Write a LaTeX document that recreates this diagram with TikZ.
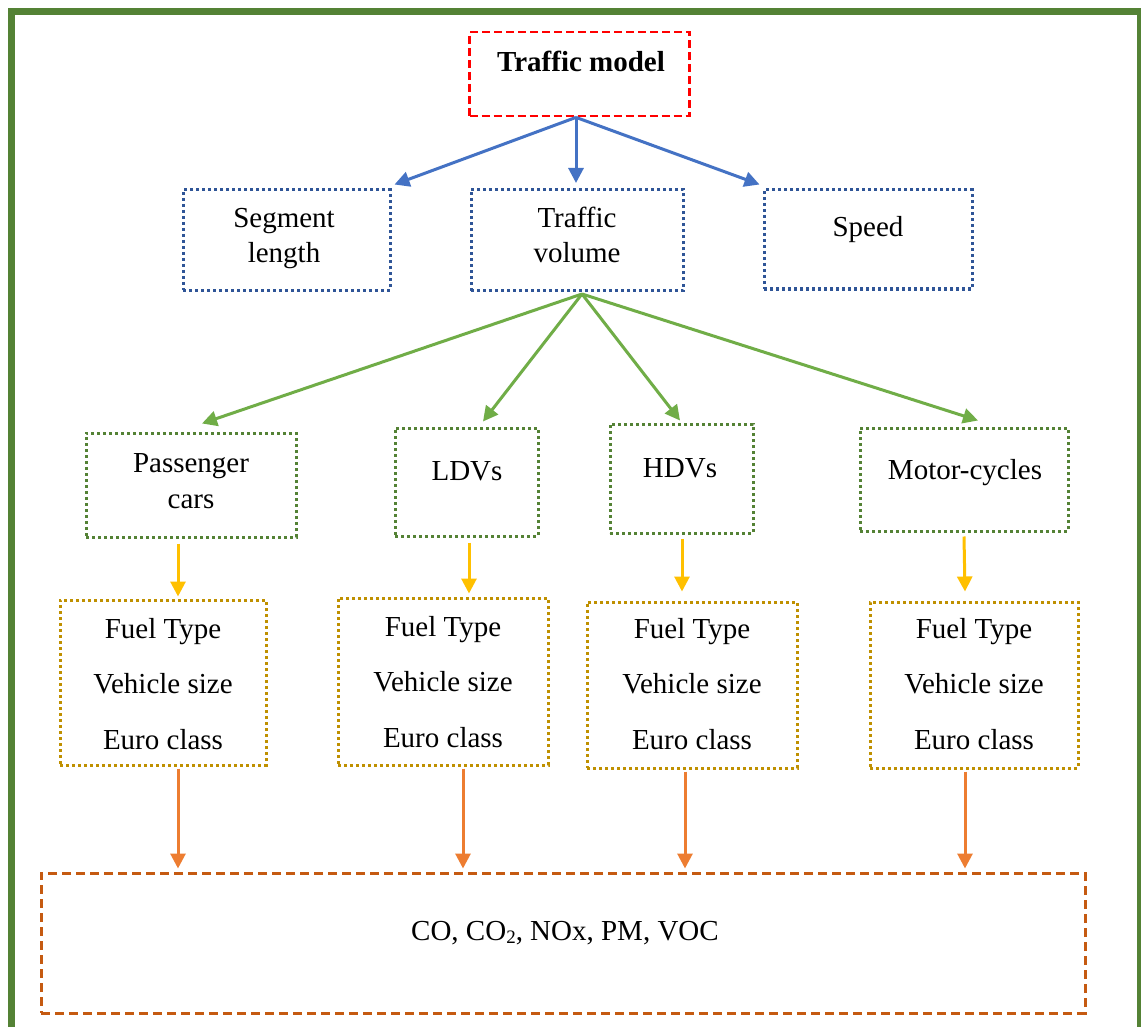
\documentclass[tikz,border=0pt]{standalone}
\usepackage{fontspec}
\setmainfont{Liberation Serif}
\usetikzlibrary{arrows.meta}
\definecolor{bordergreen}{HTML}{548235}
\definecolor{arrblue}{HTML}{4472C4}
\definecolor{boxblue}{HTML}{2F5597}
\definecolor{arrgreen}{HTML}{70AD47}
\definecolor{boxgreen}{HTML}{548235}
\definecolor{arryellow}{HTML}{FFC000}
\definecolor{boxgold}{HTML}{BF9000}
\definecolor{arrorange}{HTML}{ED7D31}
\definecolor{boxorange}{HTML}{C55A11}
\tikzset{
  txt/.style={font=\fontsize{29}{31}\selectfont, anchor=base, inner sep=0pt},
  frame/.style={draw, inner sep=0pt, line width=3pt},
  dotbox/.style={frame, dash pattern=on 3pt off 3pt},
  redbox/.style={frame, draw=red, line width=2.8pt, dash pattern=on 8pt off 4pt},
  outbox/.style={frame, draw=boxorange, line width=3pt, dash pattern=on 9pt off 5pt},
  conn/.style={line width=3pt, -{Triangle[length=15pt,width=15pt]}},
}
\begin{document}
\begin{tikzpicture}[x=1pt,y=-1pt]
\useasboundingbox (0,0) rectangle (1141,1027);
\fill[white] (0,0) rectangle (1141,1027);
\draw[bordergreen, line width=7pt] (11.5,1060) -- (11.5,11.5) -- (1140.5,11.5) -- (1140.5,1060);

% boxes
\node[redbox, minimum width=220pt, minimum height=84pt] (tm) at (579.5,74) {};
\node[dotbox, draw=boxblue, minimum width=207pt, minimum height=100pt] (seg) at (286.5,240) {};
\node[dotbox, draw=boxblue, minimum width=212pt, minimum height=101pt] (tv) at (577,240) {};
\node[dotbox, draw=boxblue, minimum width=208pt, minimum height=99pt] (spd) at (868,239.5) {};
\node[dotbox, draw=boxgreen, minimum width=210pt, minimum height=104pt] (pc) at (191,485) {};
\node[dotbox, draw=boxgreen, minimum width=143pt, minimum height=108pt] (ldv) at (466.5,482) {};
\node[dotbox, draw=boxgreen, minimum width=143pt, minimum height=109pt] (hdv) at (681.5,478.5) {};
\node[dotbox, draw=boxgreen, minimum width=208pt, minimum height=103pt] (moto) at (964,479.5) {};
\node[dotbox, draw=boxgold, minimum width=206pt, minimum height=165pt] (f1) at (163,682.5) {};
\node[dotbox, draw=boxgold, minimum width=210pt, minimum height=167pt] (f2) at (443,681.5) {};
\node[dotbox, draw=boxgold, minimum width=210pt, minimum height=166pt] (f3) at (692,685) {};
\node[dotbox, draw=boxgold, minimum width=208pt, minimum height=166pt] (f4) at (974,685) {};
\node[outbox, minimum width=1044pt, minimum height=140pt] (out) at (563,943) {};

% texts
\node[txt, font=\fontsize{29}{31}\selectfont\bfseries] (ttm) at (581,72) {Traffic model};
\node[txt] (tseg1) at (284,228) {Segment};
\node[txt] (tseg2) at (284,263) {length};
\node[txt] (ttv1) at (577,228) {Traffic};
\node[txt] (ttv2) at (577,263) {volume};
\node[txt] (tspd) at (868,237) {Speed};
\node[txt] (tpc1) at (191,472) {Passenger};
\node[txt] (tpc2) at (191,508) {cars};
\node[txt] (tldv) at (467,480) {LDVs};
\node[txt] (thdv) at (680,477) {HDVs};
\node[txt] (tmoto) at (965,479) {Motor-cycles};
\foreach \n/\x/\y in {1/163/638, 2/443/636, 3/692/638, 4/974/638} {
  \node[txt] (fa\n) at (\x,\y) {Fuel Type};
  \node[txt] (fb\n) at (\x,\y+55) {Vehicle size};
  \node[txt] (fc\n) at (\x,\y+111) {Euro class};
}
\node[txt] (tout) at (565,940) {CO, CO\raisebox{-3pt}{\fontsize{19}{19}\selectfont 2}, NOx, PM, VOC};

% blue arrows
\draw[conn, arrblue] ([xshift=-3.5pt]tm.south) -- ([xshift=3pt,yshift=4pt]seg.north east);
\draw[conn, arrblue] ([xshift=-3.5pt]tm.south) -- ([xshift=-1pt,yshift=5pt]tv.north);
\draw[conn, arrblue] ([xshift=-3.5pt]tm.south) -- ([xshift=-3pt,yshift=4pt]spd.north west);

% green arrows
\draw[conn, arrgreen] ([xshift=5pt,yshift=-2pt]tv.south) -- ([xshift=11pt,yshift=8pt]pc.north);
\draw[conn, arrgreen] ([xshift=5pt,yshift=-2pt]tv.south) -- ([xshift=16.5pt,yshift=5pt]ldv.north);
\draw[conn, arrgreen] ([xshift=5pt,yshift=-2pt]tv.south) -- ([xshift=-1.5pt,yshift=2pt]hdv.north);
\draw[conn, arrgreen] ([xshift=5pt,yshift=-2pt]tv.south) -- ([xshift=14pt,yshift=6pt]moto.north);

% yellow arrows
\draw[conn, arryellow] ([xshift=-13pt,yshift=-5pt]pc.south) -- ([xshift=15pt,yshift=2pt]f1.north);
\draw[conn, arryellow] ([xshift=2.5pt,yshift=-5pt]ldv.south) -- ([xshift=26pt,yshift=3pt]f2.north);
\draw[conn, arryellow] ([xshift=0.5pt,yshift=-4pt]hdv.south) -- ([xshift=-10pt,yshift=9pt]f3.north);
\draw[conn, arryellow] ([yshift=-4pt]moto.south) -- ([xshift=-9pt,yshift=9pt]f4.north);

% orange arrows
\draw[conn, arrorange] ([xshift=15pt,yshift=-2pt]f1.south) -- ([xshift=-385pt,yshift=3pt]out.north);
\draw[conn, arrorange] ([xshift=20pt,yshift=-2pt]f2.south) -- ([xshift=-100pt,yshift=3pt]out.north);
\draw[conn, arrorange] ([xshift=-7pt,yshift=-2pt]f3.south) -- ([xshift=122pt,yshift=3pt]out.north);
\draw[conn, arrorange] ([xshift=-9pt,yshift=-2pt]f4.south) -- ([xshift=402pt,yshift=3pt]out.north);
\end{tikzpicture}
\end{document}
